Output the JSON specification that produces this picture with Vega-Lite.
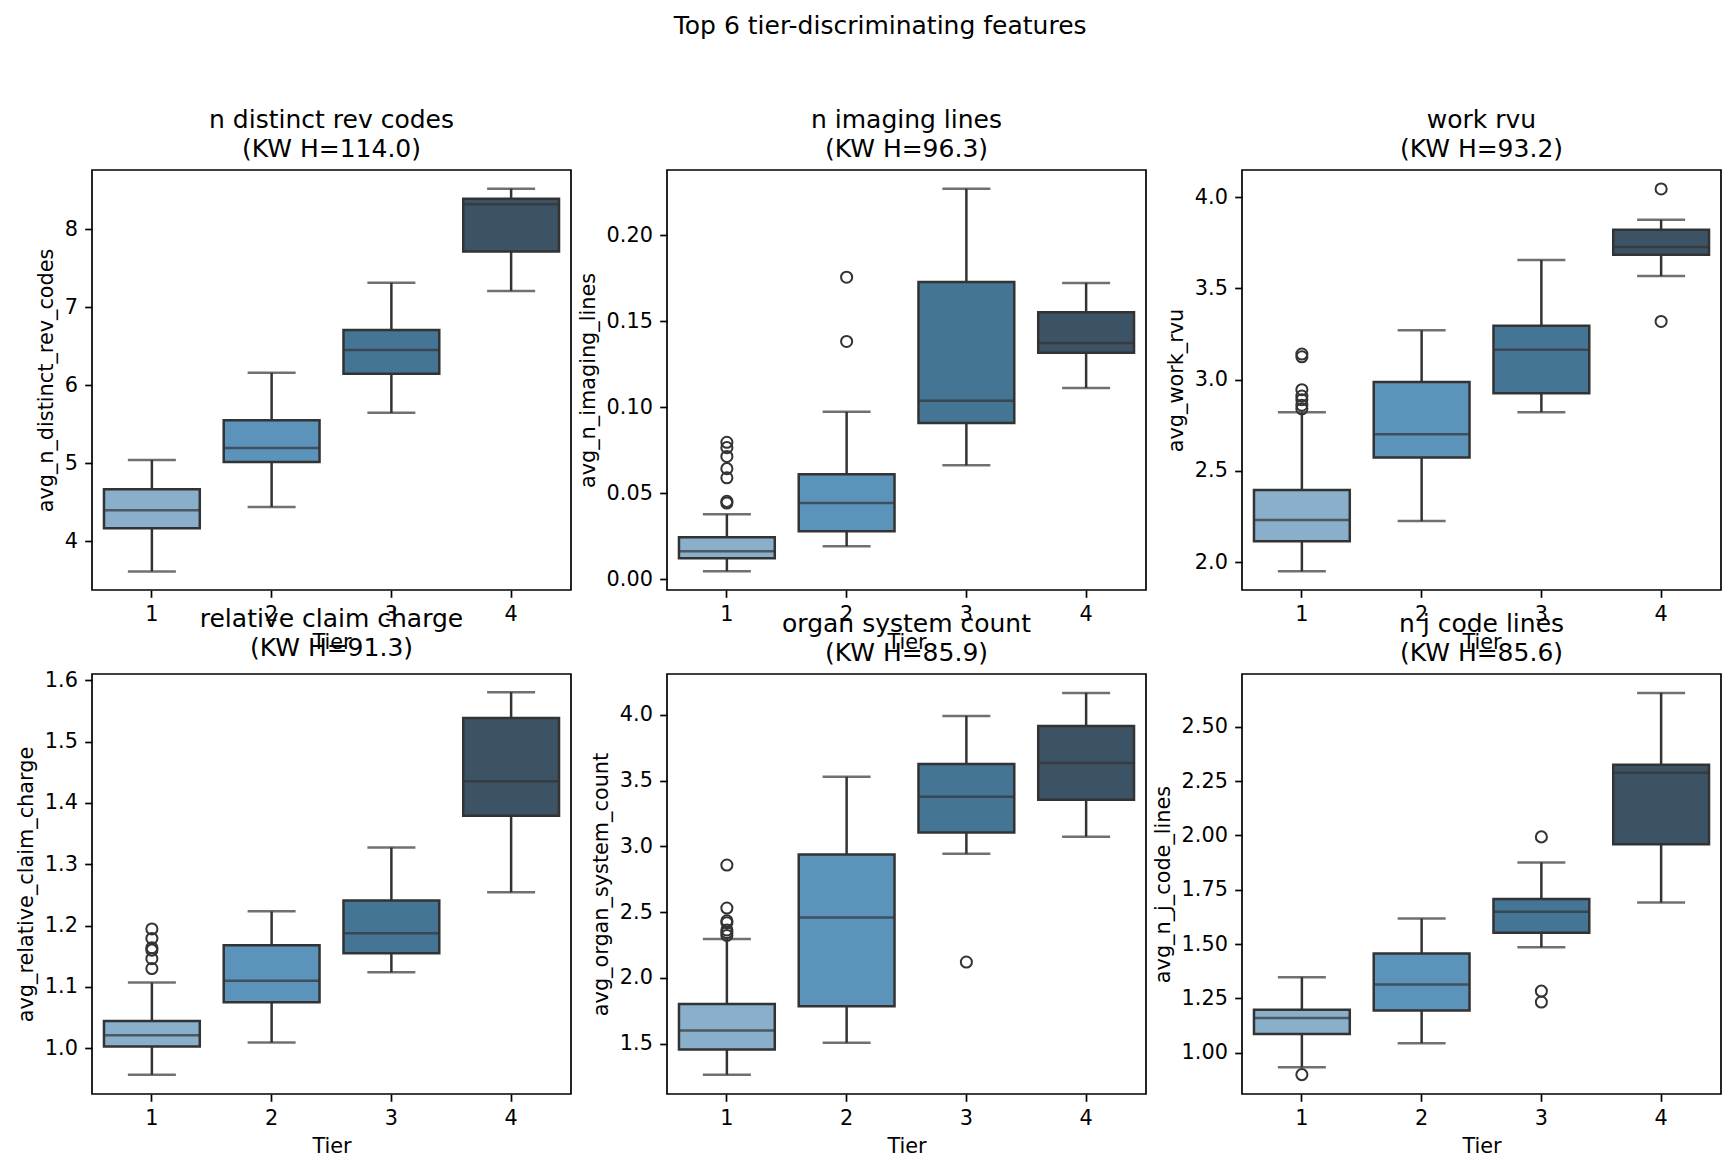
{
  "$schema": "https://vega.github.io/schema/vega-lite/v6.json",
  "padding": {"left": 14, "top": 14, "right": 0, "bottom": 0},
  "title": {"text": "Top 6 tier-discriminating features", "anchor": "middle", "fontSize": 25, "fontWeight": "normal", "offset": 68, "dx": 12},
  "bounds": "flush",
  "columns": 3,
  "spacing": {"row": 84, "column": 96},
  "datasets": {
    "boxes": [
      {"feature": "rev", "tier": 1, "lo": 3.617, "q1": 4.171, "med": 4.40, "q3": 4.67, "hi": 5.044},
      {"feature": "rev", "tier": 2, "lo": 4.441, "q1": 5.017, "med": 5.197, "q3": 5.552, "hi": 6.16},
      {"feature": "rev", "tier": 3, "lo": 5.647, "q1": 6.146, "med": 6.452, "q3": 6.709, "hi": 7.312},
      {"feature": "rev", "tier": 4, "lo": 7.208, "q1": 7.712, "med": 8.319, "q3": 8.387, "hi": 8.517},
      {"feature": "img", "tier": 1, "lo": 0.0047, "q1": 0.0122, "med": 0.0163, "q3": 0.0245, "hi": 0.0378},
      {"feature": "img", "tier": 2, "lo": 0.0192, "q1": 0.0280, "med": 0.0443, "q3": 0.0610, "hi": 0.0973},
      {"feature": "img", "tier": 3, "lo": 0.0663, "q1": 0.0908, "med": 0.1037, "q3": 0.1727, "hi": 0.2269},
      {"feature": "img", "tier": 4, "lo": 0.1112, "q1": 0.1316, "med": 0.1373, "q3": 0.1551, "hi": 0.1722},
      {"feature": "rvu", "tier": 1, "lo": 1.950, "q1": 2.1155, "med": 2.231, "q3": 2.395, "hi": 2.822},
      {"feature": "rvu", "tier": 2, "lo": 2.2252, "q1": 2.5736, "med": 2.7007, "q3": 2.9875, "hi": 3.270},
      {"feature": "rvu", "tier": 3, "lo": 2.822, "q1": 2.9259, "med": 3.1636, "q3": 3.2955, "hi": 3.655},
      {"feature": "rvu", "tier": 4, "lo": 3.567, "q1": 3.6843, "med": 3.7267, "q3": 3.821, "hi": 3.875},
      {"feature": "rcc", "tier": 1, "lo": 0.957, "q1": 1.003, "med": 1.0214, "q3": 1.0446, "hi": 1.1071},
      {"feature": "rcc", "tier": 2, "lo": 1.0095, "q1": 1.075, "med": 1.1101, "q3": 1.1679, "hi": 1.2232},
      {"feature": "rcc", "tier": 3, "lo": 1.1238, "q1": 1.1548, "med": 1.1875, "q3": 1.2411, "hi": 1.3274},
      {"feature": "rcc", "tier": 4, "lo": 1.2542, "q1": 1.3792, "med": 1.4351, "q3": 1.5381, "hi": 1.5804},
      {"feature": "osc", "tier": 1, "lo": 1.2644, "q1": 1.4557, "med": 1.5998, "q3": 1.802, "hi": 2.2955},
      {"feature": "osc", "tier": 2, "lo": 1.5083, "q1": 1.7855, "med": 2.459, "q3": 2.9385, "hi": 3.529},
      {"feature": "osc", "tier": 3, "lo": 2.944, "q1": 3.1048, "med": 3.3764, "q3": 3.6258, "hi": 3.9917},
      {"feature": "osc", "tier": 4, "lo": 3.074, "q1": 3.354, "med": 3.634, "q3": 3.914, "hi": 4.1663},
      {"feature": "jcl", "tier": 1, "lo": 0.9329, "q1": 1.0856, "med": 1.1594, "q3": 1.198, "hi": 1.3473},
      {"feature": "jcl", "tier": 2, "lo": 1.0436, "q1": 1.1946, "med": 1.3138, "q3": 1.4564, "hi": 1.6174},
      {"feature": "jcl", "tier": 3, "lo": 1.4849, "q1": 1.552, "med": 1.6493, "q3": 1.708, "hi": 1.8758},
      {"feature": "jcl", "tier": 4, "lo": 1.6913, "q1": 1.9597, "med": 2.2886, "q3": 2.3255, "hi": 2.656}
    ],
    "outliers": [
      {"feature": "img", "tier": 1, "value": 0.0796},
      {"feature": "img", "tier": 1, "value": 0.0765},
      {"feature": "img", "tier": 1, "value": 0.0714},
      {"feature": "img", "tier": 1, "value": 0.0643},
      {"feature": "img", "tier": 1, "value": 0.059},
      {"feature": "img", "tier": 1, "value": 0.0453},
      {"feature": "img", "tier": 1, "value": 0.0443},
      {"feature": "img", "tier": 2, "value": 0.1755},
      {"feature": "img", "tier": 2, "value": 0.1382},
      {"feature": "rvu", "tier": 1, "value": 3.14},
      {"feature": "rvu", "tier": 1, "value": 3.125},
      {"feature": "rvu", "tier": 1, "value": 2.945},
      {"feature": "rvu", "tier": 1, "value": 2.91},
      {"feature": "rvu", "tier": 1, "value": 2.89},
      {"feature": "rvu", "tier": 1, "value": 2.86},
      {"feature": "rvu", "tier": 1, "value": 2.84},
      {"feature": "rvu", "tier": 4, "value": 4.044},
      {"feature": "rvu", "tier": 4, "value": 3.3186},
      {"feature": "rcc", "tier": 1, "value": 1.1946},
      {"feature": "rcc", "tier": 1, "value": 1.179},
      {"feature": "rcc", "tier": 1, "value": 1.164},
      {"feature": "rcc", "tier": 1, "value": 1.16},
      {"feature": "rcc", "tier": 1, "value": 1.146},
      {"feature": "rcc", "tier": 1, "value": 1.13},
      {"feature": "osc", "tier": 1, "value": 2.858},
      {"feature": "osc", "tier": 1, "value": 2.531},
      {"feature": "osc", "tier": 1, "value": 2.434},
      {"feature": "osc", "tier": 1, "value": 2.42},
      {"feature": "osc", "tier": 1, "value": 2.365},
      {"feature": "osc", "tier": 1, "value": 2.345},
      {"feature": "osc", "tier": 1, "value": 2.323},
      {"feature": "osc", "tier": 3, "value": 2.1208},
      {"feature": "jcl", "tier": 1, "value": 0.8993},
      {"feature": "jcl", "tier": 3, "value": 1.9933},
      {"feature": "jcl", "tier": 3, "value": 1.2836},
      {"feature": "jcl", "tier": 3, "value": 1.2332}
    ]
  },
  "concat": [
    {
      "width": 479, "height": 420,
      "title": {"text": ["n distinct rev codes", "(KW H=114.0)"]},
      "layer": [
        {"data": {"name": "boxes"}, "transform": [{"filter": "datum.feature === 'rev'"}],
         "mark": {"type": "rule", "color": "#333333", "strokeWidth": 2.5},
         "encoding": {"x": {"field": "tier", "type": "ordinal", "title": "Tier", "scale": {"domain": [1, 2, 3, 4], "paddingInner": 0, "paddingOuter": 0}, "axis": {"labelAngle": 0, "bandPosition": 0.5}},
                      "y": {"field": "lo", "type": "quantitative", "title": "avg_n_distinct_rev_codes", "scale": {"domain": [3.379, 8.756], "nice": false, "zero": false}, "axis": {"values": [4, 5, 6, 7, 8], "format": "d"}},
                      "y2": {"field": "hi"}}},
        {"data": {"name": "boxes"}, "transform": [{"filter": "datum.feature === 'rev'"}],
         "mark": {"type": "tick", "color": "#333333", "thickness": 2.5, "size": 48},
         "encoding": {"x": {"field": "tier", "type": "ordinal", "title": "Tier"}, "y": {"field": "lo", "type": "quantitative", "title": "avg_n_distinct_rev_codes"}}},
        {"data": {"name": "boxes"}, "transform": [{"filter": "datum.feature === 'rev'"}],
         "mark": {"type": "tick", "color": "#333333", "thickness": 2.5, "size": 48},
         "encoding": {"x": {"field": "tier", "type": "ordinal", "title": "Tier"}, "y": {"field": "hi", "type": "quantitative", "title": "avg_n_distinct_rev_codes"}}},
        {"data": {"name": "boxes"}, "transform": [{"filter": "datum.feature === 'rev'"}],
         "mark": {"type": "bar", "width": {"band": 0.8}, "stroke": "#333333", "strokeWidth": 2.5},
         "encoding": {"x": {"field": "tier", "type": "ordinal", "title": "Tier"}, "y": {"field": "q1", "type": "quantitative", "title": "avg_n_distinct_rev_codes"}, "y2": {"field": "q3"},
                      "color": {"field": "tier", "type": "ordinal", "scale": {"domain": [1, 2, 3, 4], "range": ["#89afca", "#5b93bb", "#447595", "#3c5366"]}, "legend": null}}},
        {"data": {"name": "boxes"}, "transform": [{"filter": "datum.feature === 'rev'"}],
         "mark": {"type": "tick", "color": "#333333", "thickness": 2.5, "size": 96},
         "encoding": {"x": {"field": "tier", "type": "ordinal", "title": "Tier"}, "y": {"field": "med", "type": "quantitative", "title": "avg_n_distinct_rev_codes"}}}
      ]
    },
    {
      "width": 479, "height": 420,
      "title": {"text": ["n imaging lines", "(KW H=96.3)"]},
      "layer": [
        {"data": {"name": "boxes"}, "transform": [{"filter": "datum.feature === 'img'"}],
         "mark": {"type": "rule", "color": "#333333", "strokeWidth": 2.5},
         "encoding": {"x": {"field": "tier", "type": "ordinal", "title": "Tier", "scale": {"domain": [1, 2, 3, 4], "paddingInner": 0, "paddingOuter": 0}, "axis": {"labelAngle": 0, "bandPosition": 0.5}},
                      "y": {"field": "lo", "type": "quantitative", "title": "avg_n_imaging_lines", "scale": {"domain": [-0.0062, 0.2378], "nice": false, "zero": false}, "axis": {"values": [0, 0.05, 0.1, 0.15, 0.2], "format": ".2f"}},
                      "y2": {"field": "hi"}}},
        {"data": {"name": "boxes"}, "transform": [{"filter": "datum.feature === 'img'"}],
         "mark": {"type": "tick", "color": "#333333", "thickness": 2.5, "size": 48},
         "encoding": {"x": {"field": "tier", "type": "ordinal", "title": "Tier"}, "y": {"field": "lo", "type": "quantitative", "title": "avg_n_imaging_lines"}}},
        {"data": {"name": "boxes"}, "transform": [{"filter": "datum.feature === 'img'"}],
         "mark": {"type": "tick", "color": "#333333", "thickness": 2.5, "size": 48},
         "encoding": {"x": {"field": "tier", "type": "ordinal", "title": "Tier"}, "y": {"field": "hi", "type": "quantitative", "title": "avg_n_imaging_lines"}}},
        {"data": {"name": "boxes"}, "transform": [{"filter": "datum.feature === 'img'"}],
         "mark": {"type": "bar", "width": {"band": 0.8}, "stroke": "#333333", "strokeWidth": 2.5},
         "encoding": {"x": {"field": "tier", "type": "ordinal", "title": "Tier"}, "y": {"field": "q1", "type": "quantitative", "title": "avg_n_imaging_lines"}, "y2": {"field": "q3"},
                      "color": {"field": "tier", "type": "ordinal", "scale": {"domain": [1, 2, 3, 4], "range": ["#89afca", "#5b93bb", "#447595", "#3c5366"]}, "legend": null}}},
        {"data": {"name": "boxes"}, "transform": [{"filter": "datum.feature === 'img'"}],
         "mark": {"type": "tick", "color": "#333333", "thickness": 2.5, "size": 96},
         "encoding": {"x": {"field": "tier", "type": "ordinal", "title": "Tier"}, "y": {"field": "med", "type": "quantitative", "title": "avg_n_imaging_lines"}}},
        {"data": {"name": "outliers"}, "transform": [{"filter": "datum.feature === 'img'"}],
         "mark": {"type": "point", "shape": "circle", "filled": false, "color": "#333333", "strokeWidth": 2, "size": 123, "opacity": 1},
         "encoding": {"x": {"field": "tier", "type": "ordinal", "title": "Tier"}, "y": {"field": "value", "type": "quantitative", "title": "avg_n_imaging_lines"}}}
      ]
    },
    {
      "width": 479, "height": 420,
      "title": {"text": ["work rvu", "(KW H=93.2)"]},
      "layer": [
        {"data": {"name": "boxes"}, "transform": [{"filter": "datum.feature === 'rvu'"}],
         "mark": {"type": "rule", "color": "#333333", "strokeWidth": 2.5},
         "encoding": {"x": {"field": "tier", "type": "ordinal", "title": "Tier", "scale": {"domain": [1, 2, 3, 4], "paddingInner": 0, "paddingOuter": 0}, "axis": {"labelAngle": 0, "bandPosition": 0.5}},
                      "y": {"field": "lo", "type": "quantitative", "title": "avg_work_rvu", "scale": {"domain": [1.848, 4.148], "nice": false, "zero": false}, "axis": {"values": [2, 2.5, 3, 3.5, 4], "format": ".1f"}},
                      "y2": {"field": "hi"}}},
        {"data": {"name": "boxes"}, "transform": [{"filter": "datum.feature === 'rvu'"}],
         "mark": {"type": "tick", "color": "#333333", "thickness": 2.5, "size": 48},
         "encoding": {"x": {"field": "tier", "type": "ordinal", "title": "Tier"}, "y": {"field": "lo", "type": "quantitative", "title": "avg_work_rvu"}}},
        {"data": {"name": "boxes"}, "transform": [{"filter": "datum.feature === 'rvu'"}],
         "mark": {"type": "tick", "color": "#333333", "thickness": 2.5, "size": 48},
         "encoding": {"x": {"field": "tier", "type": "ordinal", "title": "Tier"}, "y": {"field": "hi", "type": "quantitative", "title": "avg_work_rvu"}}},
        {"data": {"name": "boxes"}, "transform": [{"filter": "datum.feature === 'rvu'"}],
         "mark": {"type": "bar", "width": {"band": 0.8}, "stroke": "#333333", "strokeWidth": 2.5},
         "encoding": {"x": {"field": "tier", "type": "ordinal", "title": "Tier"}, "y": {"field": "q1", "type": "quantitative", "title": "avg_work_rvu"}, "y2": {"field": "q3"},
                      "color": {"field": "tier", "type": "ordinal", "scale": {"domain": [1, 2, 3, 4], "range": ["#89afca", "#5b93bb", "#447595", "#3c5366"]}, "legend": null}}},
        {"data": {"name": "boxes"}, "transform": [{"filter": "datum.feature === 'rvu'"}],
         "mark": {"type": "tick", "color": "#333333", "thickness": 2.5, "size": 96},
         "encoding": {"x": {"field": "tier", "type": "ordinal", "title": "Tier"}, "y": {"field": "med", "type": "quantitative", "title": "avg_work_rvu"}}},
        {"data": {"name": "outliers"}, "transform": [{"filter": "datum.feature === 'rvu'"}],
         "mark": {"type": "point", "shape": "circle", "filled": false, "color": "#333333", "strokeWidth": 2, "size": 123, "opacity": 1},
         "encoding": {"x": {"field": "tier", "type": "ordinal", "title": "Tier"}, "y": {"field": "value", "type": "quantitative", "title": "avg_work_rvu"}}}
      ]
    },
    {
      "width": 479, "height": 420,
      "title": {"text": ["relative claim charge", "(KW H=91.3)"]},
      "layer": [
        {"data": {"name": "boxes"}, "transform": [{"filter": "datum.feature === 'rcc'"}],
         "mark": {"type": "rule", "color": "#333333", "strokeWidth": 2.5},
         "encoding": {"x": {"field": "tier", "type": "ordinal", "title": "Tier", "scale": {"domain": [1, 2, 3, 4], "paddingInner": 0, "paddingOuter": 0}, "axis": {"labelAngle": 0, "bandPosition": 0.5}},
                      "y": {"field": "lo", "type": "quantitative", "title": "avg_relative_claim_charge", "scale": {"domain": [0.9256, 1.61], "nice": false, "zero": false}, "axis": {"values": [1.0, 1.1, 1.2, 1.3, 1.4, 1.5, 1.6], "format": ".1f"}},
                      "y2": {"field": "hi"}}},
        {"data": {"name": "boxes"}, "transform": [{"filter": "datum.feature === 'rcc'"}],
         "mark": {"type": "tick", "color": "#333333", "thickness": 2.5, "size": 48},
         "encoding": {"x": {"field": "tier", "type": "ordinal", "title": "Tier"}, "y": {"field": "lo", "type": "quantitative", "title": "avg_relative_claim_charge"}}},
        {"data": {"name": "boxes"}, "transform": [{"filter": "datum.feature === 'rcc'"}],
         "mark": {"type": "tick", "color": "#333333", "thickness": 2.5, "size": 48},
         "encoding": {"x": {"field": "tier", "type": "ordinal", "title": "Tier"}, "y": {"field": "hi", "type": "quantitative", "title": "avg_relative_claim_charge"}}},
        {"data": {"name": "boxes"}, "transform": [{"filter": "datum.feature === 'rcc'"}],
         "mark": {"type": "bar", "width": {"band": 0.8}, "stroke": "#333333", "strokeWidth": 2.5},
         "encoding": {"x": {"field": "tier", "type": "ordinal", "title": "Tier"}, "y": {"field": "q1", "type": "quantitative", "title": "avg_relative_claim_charge"}, "y2": {"field": "q3"},
                      "color": {"field": "tier", "type": "ordinal", "scale": {"domain": [1, 2, 3, 4], "range": ["#89afca", "#5b93bb", "#447595", "#3c5366"]}, "legend": null}}},
        {"data": {"name": "boxes"}, "transform": [{"filter": "datum.feature === 'rcc'"}],
         "mark": {"type": "tick", "color": "#333333", "thickness": 2.5, "size": 96},
         "encoding": {"x": {"field": "tier", "type": "ordinal", "title": "Tier"}, "y": {"field": "med", "type": "quantitative", "title": "avg_relative_claim_charge"}}},
        {"data": {"name": "outliers"}, "transform": [{"filter": "datum.feature === 'rcc'"}],
         "mark": {"type": "point", "shape": "circle", "filled": false, "color": "#333333", "strokeWidth": 2, "size": 123, "opacity": 1},
         "encoding": {"x": {"field": "tier", "type": "ordinal", "title": "Tier"}, "y": {"field": "value", "type": "quantitative", "title": "avg_relative_claim_charge"}}}
      ]
    },
    {
      "width": 479, "height": 420,
      "title": {"text": ["organ system count", "(KW H=85.9)"]},
      "layer": [
        {"data": {"name": "boxes"}, "transform": [{"filter": "datum.feature === 'osc'"}],
         "mark": {"type": "rule", "color": "#333333", "strokeWidth": 2.5},
         "encoding": {"x": {"field": "tier", "type": "ordinal", "title": "Tier", "scale": {"domain": [1, 2, 3, 4], "paddingInner": 0, "paddingOuter": 0}, "axis": {"labelAngle": 0, "bandPosition": 0.5}},
                      "y": {"field": "lo", "type": "quantitative", "title": "avg_organ_system_count", "scale": {"domain": [1.118, 4.31], "nice": false, "zero": false}, "axis": {"values": [1.5, 2.0, 2.5, 3.0, 3.5, 4.0], "format": ".1f"}},
                      "y2": {"field": "hi"}}},
        {"data": {"name": "boxes"}, "transform": [{"filter": "datum.feature === 'osc'"}],
         "mark": {"type": "tick", "color": "#333333", "thickness": 2.5, "size": 48},
         "encoding": {"x": {"field": "tier", "type": "ordinal", "title": "Tier"}, "y": {"field": "lo", "type": "quantitative", "title": "avg_organ_system_count"}}},
        {"data": {"name": "boxes"}, "transform": [{"filter": "datum.feature === 'osc'"}],
         "mark": {"type": "tick", "color": "#333333", "thickness": 2.5, "size": 48},
         "encoding": {"x": {"field": "tier", "type": "ordinal", "title": "Tier"}, "y": {"field": "hi", "type": "quantitative", "title": "avg_organ_system_count"}}},
        {"data": {"name": "boxes"}, "transform": [{"filter": "datum.feature === 'osc'"}],
         "mark": {"type": "bar", "width": {"band": 0.8}, "stroke": "#333333", "strokeWidth": 2.5},
         "encoding": {"x": {"field": "tier", "type": "ordinal", "title": "Tier"}, "y": {"field": "q1", "type": "quantitative", "title": "avg_organ_system_count"}, "y2": {"field": "q3"},
                      "color": {"field": "tier", "type": "ordinal", "scale": {"domain": [1, 2, 3, 4], "range": ["#89afca", "#5b93bb", "#447595", "#3c5366"]}, "legend": null}}},
        {"data": {"name": "boxes"}, "transform": [{"filter": "datum.feature === 'osc'"}],
         "mark": {"type": "tick", "color": "#333333", "thickness": 2.5, "size": 96},
         "encoding": {"x": {"field": "tier", "type": "ordinal", "title": "Tier"}, "y": {"field": "med", "type": "quantitative", "title": "avg_organ_system_count"}}},
        {"data": {"name": "outliers"}, "transform": [{"filter": "datum.feature === 'osc'"}],
         "mark": {"type": "point", "shape": "circle", "filled": false, "color": "#333333", "strokeWidth": 2, "size": 123, "opacity": 1},
         "encoding": {"x": {"field": "tier", "type": "ordinal", "title": "Tier"}, "y": {"field": "value", "type": "quantitative", "title": "avg_organ_system_count"}}}
      ]
    },
    {
      "width": 479, "height": 420,
      "title": {"text": ["n j code lines", "(KW H=85.6)"]},
      "layer": [
        {"data": {"name": "boxes"}, "transform": [{"filter": "datum.feature === 'jcl'"}],
         "mark": {"type": "rule", "color": "#333333", "strokeWidth": 2.5},
         "encoding": {"x": {"field": "tier", "type": "ordinal", "title": "Tier", "scale": {"domain": [1, 2, 3, 4], "paddingInner": 0, "paddingOuter": 0}, "axis": {"labelAngle": 0, "bandPosition": 0.5}},
                      "y": {"field": "lo", "type": "quantitative", "title": "avg_n_j_code_lines", "scale": {"domain": [0.81, 2.743], "nice": false, "zero": false}, "axis": {"values": [1.0, 1.25, 1.5, 1.75, 2.0, 2.25, 2.5], "format": ".2f"}},
                      "y2": {"field": "hi"}}},
        {"data": {"name": "boxes"}, "transform": [{"filter": "datum.feature === 'jcl'"}],
         "mark": {"type": "tick", "color": "#333333", "thickness": 2.5, "size": 48},
         "encoding": {"x": {"field": "tier", "type": "ordinal", "title": "Tier"}, "y": {"field": "lo", "type": "quantitative", "title": "avg_n_j_code_lines"}}},
        {"data": {"name": "boxes"}, "transform": [{"filter": "datum.feature === 'jcl'"}],
         "mark": {"type": "tick", "color": "#333333", "thickness": 2.5, "size": 48},
         "encoding": {"x": {"field": "tier", "type": "ordinal", "title": "Tier"}, "y": {"field": "hi", "type": "quantitative", "title": "avg_n_j_code_lines"}}},
        {"data": {"name": "boxes"}, "transform": [{"filter": "datum.feature === 'jcl'"}],
         "mark": {"type": "bar", "width": {"band": 0.8}, "stroke": "#333333", "strokeWidth": 2.5},
         "encoding": {"x": {"field": "tier", "type": "ordinal", "title": "Tier"}, "y": {"field": "q1", "type": "quantitative", "title": "avg_n_j_code_lines"}, "y2": {"field": "q3"},
                      "color": {"field": "tier", "type": "ordinal", "scale": {"domain": [1, 2, 3, 4], "range": ["#89afca", "#5b93bb", "#447595", "#3c5366"]}, "legend": null}}},
        {"data": {"name": "boxes"}, "transform": [{"filter": "datum.feature === 'jcl'"}],
         "mark": {"type": "tick", "color": "#333333", "thickness": 2.5, "size": 96},
         "encoding": {"x": {"field": "tier", "type": "ordinal", "title": "Tier"}, "y": {"field": "med", "type": "quantitative", "title": "avg_n_j_code_lines"}}},
        {"data": {"name": "outliers"}, "transform": [{"filter": "datum.feature === 'jcl'"}],
         "mark": {"type": "point", "shape": "circle", "filled": false, "color": "#333333", "strokeWidth": 2, "size": 123, "opacity": 1},
         "encoding": {"x": {"field": "tier", "type": "ordinal", "title": "Tier"}, "y": {"field": "value", "type": "quantitative", "title": "avg_n_j_code_lines"}}}
      ]
    }
  ],
  "config": {
    "font": "DejaVu Sans",
    "background": "white",
    "view": {"stroke": "black", "strokeWidth": 1.7},
    "axis": {"domain": false, "grid": false, "tickColor": "black", "tickWidth": 1.7, "tickSize": 7.3, "labelPadding": 7.3, "labelFontSize": 20.8, "labelColor": "black", "labelFont": "DejaVu Sans", "labelFlush": false, "labelOverlap": false, "titleFontSize": 20.8, "titleFontWeight": "normal", "titleColor": "black", "titleFont": "DejaVu Sans", "titlePadding": 8},
    "title": {"fontSize": 25, "fontWeight": "normal", "color": "black", "font": "DejaVu Sans", "lineHeight": 29, "offset": 8}
  }
}
